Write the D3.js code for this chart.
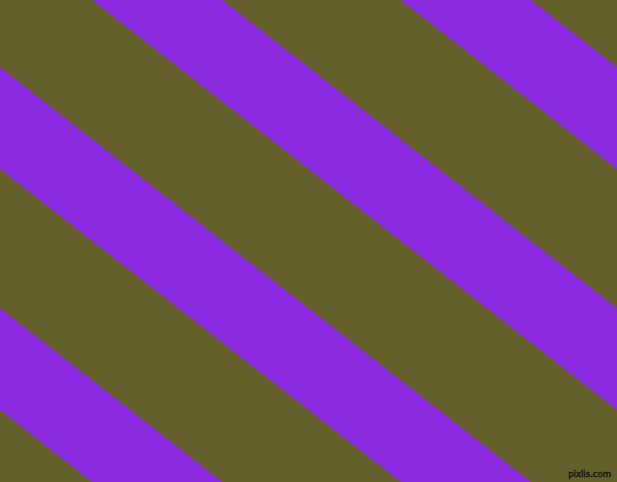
<!DOCTYPE html>
<html><head><meta charset="utf-8">
<script src="https://cdn.jsdelivr.net/npm/d3@7"></script>
<style>html,body{margin:0;padding:0;overflow:hidden;background:#655f2b}</style>
</head><body>
<svg id="c" width="617" height="482"></svg>
<script>
const stripeIndex = [-2, -1, 0, 1];           // purple stripes (index along the pattern)
const stripeColors = ["#655f2b", "#8a2be2"];   // background, stripe
const angleDeg = 38;
const watermark = "pixlis.com";

const W = 617, H = 482;
const svg = d3.select("#c");
const m = Math.tan(angleDeg * Math.PI / 180);
const start = d3.scaleLinear().domain([0, 1]).range([92, 400.5]);
const bandW = 130;

svg.append("rect").attr("width", W).attr("height", H).attr("fill", stripeColors[0]);

const line = d3.line();
svg.selectAll("path.s").data(stripeIndex).join("path")
  .attr("class", "s")
  .attr("fill", stripeColors[1])
  .attr("d", i => {
    const x0 = start(i), dx = H / m;
    return line([[x0, 0], [x0 + bandW, 0], [x0 + bandW + dx, H], [x0 + dx, H]]) + "Z";
  });

svg.append("text").attr("x", 611).attr("y", 477).attr("text-anchor", "end")
  .attr("font-family", "DejaVu Sans").attr("font-size", 8.5)
  .attr("fill", "#4a4622").attr("stroke", "#1a1a0a").attr("stroke-width", 0.6)
  .text(watermark);
</script>
</body></html>
